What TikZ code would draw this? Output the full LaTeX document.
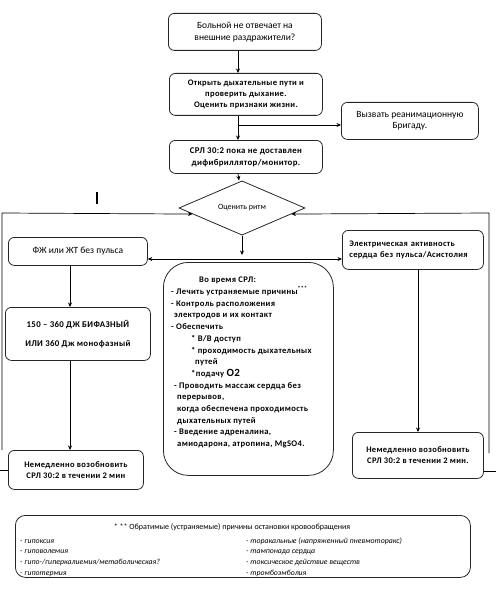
\documentclass[tikz,border=0pt]{standalone}
\usepackage{fontspec}
\setmainfont{Carlito}
\newfontfamily\spfont[LetterSpace=4]{Carlito}
\usetikzlibrary{arrows.meta,shapes.geometric,calc}
\begin{document}
\begin{tikzpicture}[x=1pt,y=-1pt,
  box/.style={draw=black!85, rounded corners=6pt, line width=0.8pt, inner sep=0pt, anchor=north west, align=center},
  arr/.style={-{Stealth[length=4.5pt,width=4pt]}, line width=0.7pt},
  darr/.style={{Stealth[length=4.5pt,width=4pt]}-{Stealth[length=4.5pt,width=4pt]}, line width=0.7pt},
  ln/.style={line width=0.7pt},
  txr/.style={font=\fontsize{9.5}{11.5}\selectfont},
  txb/.style={font=\spfont\bfseries\fontsize{8.5}{11}\selectfont}]
\useasboundingbox (0,0) rectangle (496,607);

% boxes
\node[box, minimum width=153, minimum height=37, txr] (b1) at (168,13) {Больной не отвечает на\\внешние раздражители?};
\node[box, minimum width=153, minimum height=42, txb] (b2) at (169,73) {Открыть дыхательные пути и\\проверить дыхание.\\Оценить признаки жизни.};
\node[box, minimum width=137, minimum height=37, txr] (call) at (341,102) {Вызвать реанимационную\\Бригаду.};
\node[box, minimum width=153, minimum height=33, font=\spfont\bfseries\fontsize{8.8}{12}\selectfont] (b3) at (169,140) {СРЛ 30:2 пока не доставлен\\дифибриллятор/монитор.};
\node[draw=black!85, line width=0.8pt, diamond, minimum width=126, minimum height=43, inner sep=0pt, font=\fontsize{8}{9}\selectfont] (d) at (242,208) {Оценить ритм};

\node[box, minimum width=139, minimum height=28, txr] (l1) at (8,237) {ФЖ или ЖТ без пульса};
\node[box, minimum width=145, minimum height=53, font=\spfont\bfseries\fontsize{8.8}{12}\selectfont] (l2) at (5,307) {150 – 360 ДЖ БИФАЗНЫЙ\\[7pt]ИЛИ 360 Дж монофазный};
\node[box, minimum width=135, minimum height=39, txb] (l3) at (8,450) {Немедленно возобновить\\СРЛ 30:2 в течении 2 мин};

\node[box, minimum width=141, minimum height=39, txb, align=left, text width=127] (r1) at (342,230) {Электрическая активность\\сердца без пульса/Асистолия};
\node[box, minimum width=131, minimum height=46, txb] (r3) at (352,432) {Немедленно возобновить\\СРЛ 30:2 в течении 2 мин.};

\node[box, rounded corners=25pt, minimum width=170, minimum height=213] (mid) at (163,262) {};
\node[anchor=north west, inner sep=0pt, align=left, font=\spfont\bfseries\fontsize{8.6}{11.7}\selectfont] (midtxt) at (171,277) {%
\hspace*{28pt}Во время СРЛ:\\
- Лечить устраняемые причины\textsuperscript{***}\\
- Контроль расположения\\
\hspace*{3pt}электродов и их контакт\\
- Обеспечить\\
\hspace*{20pt}* В/В доступ\\
\hspace*{20pt}* проходимость дыхательных\\
\hspace*{24pt}путей\\
\hspace*{20pt}*подачу {\fontsize{11}{11.7}\selectfont O2}\\
\hspace*{3pt}- Проводить массаж сердца без\\
\hspace*{6pt}перерывов,\\
\hspace*{6pt}когда обеспечена проходимость\\
\hspace*{6pt}дыхательных путей\\
\hspace*{3pt}- Введение адреналина,\\
\hspace*{6pt}амиодарона, атропина, MgSO4.};

\node[box, rounded corners=10pt, minimum width=455, minimum height=62] (bot) at (15,515) {};
\node[inner sep=0pt, font=\fontsize{8}{10}\selectfont] (bt) at (232,527) {* ** Обратимые (устраняемые) причины остановки кровообращения};
\node[anchor=north west, inner sep=0pt, font=\itshape\fontsize{7.8}{11.2}\selectfont] (blist) at (20,535) {%
\renewcommand{\arraystretch}{1.0}%
\begin{tabular}{@{}p{226pt}@{}l@{}}
\rule{0pt}{8pt}- гипоксия & - торакальные (напряженный пневмоторакс)\\[-0.5pt]
- гиповолемия & - тампонада сердца\\[-0.5pt]
- гипо-/гиперкалиемия/метаболическая? & - токсическое действие веществ\\[-0.5pt]
- гипотермия & - тромбоэмболия
\end{tabular}};

% helper coordinates
\coordinate (cx) at (238,0);
\coordinate (brc) at (238,125);
\coordinate (h) at (242,259);
\coordinate (lx) at (70,0);
\coordinate (rx) at (418,0);
\coordinate (fl) at (2,213);
\coordinate (fr) at (489,213);

% connectors
\draw[arr] (b1.south -| cx) -- (b2.north -| cx);
\draw[arr] (b2.south -| cx) -- (b3.north -| cx);
\draw[arr] (brc) -- (brc -| call.west);
\draw[arr] (b3.south -| cx) -- ($(d.north)+(-3,0)$);
\draw[arr] (d.south) -- ($(h)+(0,-4)$);
\draw[darr] (h -| l1.east) -- (h -| r1.west);
\draw[arr] (l1.south -| lx) -- (l2.north -| lx);
\draw[arr] (l2.south -| lx) -- (l3.north -| lx);
\draw[arr] (r1.south -| rx) -- (r3.north -| rx);

% loop frame
\draw[ln] (l3.west) -- ++(-8,0);
\draw[arr] (2,450) -- (fl) -- ($(d.west)!0.22!(d.south)$);
\draw[arr] (489,453) -- (fr) -- ($(d.east)!0.22!(d.south)$);
\draw[ln] (r3.east |- 0,471) -- (496,471);

% stray mark
\draw[line width=1.4pt] (97,192) -- (97,204);
\end{tikzpicture}
\end{document}
